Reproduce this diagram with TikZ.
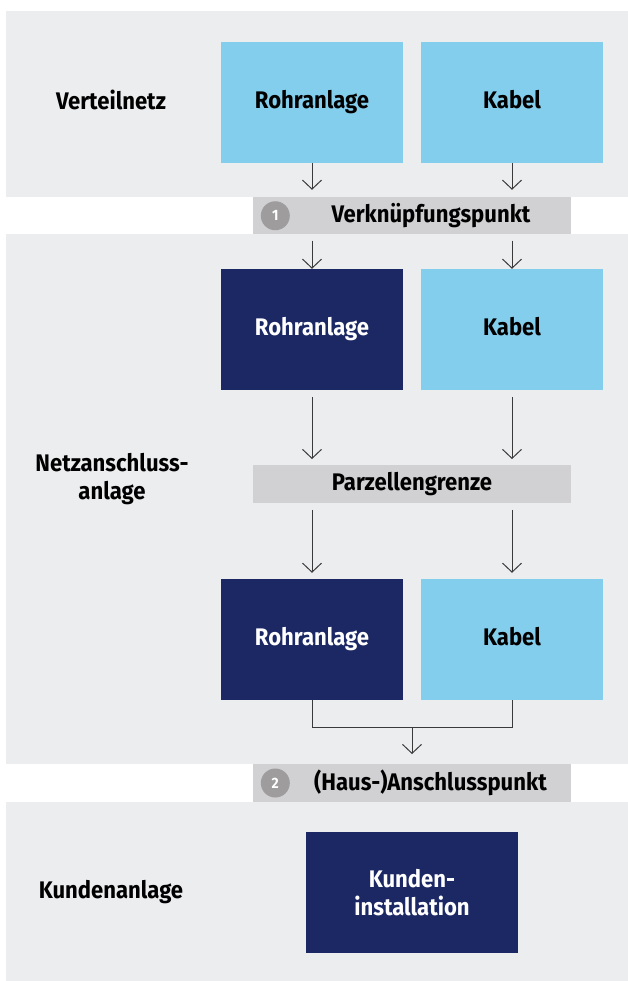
\documentclass[tikz,border=0pt]{standalone}
\usepackage{fontspec}
\setmainfont{Fira Sans}[FakeStretch=0.92]
\usetikzlibrary{arrows.meta, calc}
\definecolor{bandgray}{HTML}{ECEDEF}
\definecolor{bargray}{HTML}{D1D1D3}
\definecolor{lightblue}{HTML}{84CEED}
\definecolor{navy}{HTML}{1B2864}
\definecolor{numgray}{HTML}{9E9C9D}
\definecolor{linegray}{HTML}{3A3A3A}

\tikzset{
	box/.style={rectangle, inner sep=0pt, minimum width=182pt, minimum height=121pt,
		font=\fontsize{24}{28}\selectfont\bfseries, align=center},
	oneline/.style={text height=17pt, text depth=5pt},
	lightbox/.style={box, oneline, fill=lightblue, text=black},
	darkbox/.style={box, oneline, fill=navy, text=white},
	kundenbox/.style={box, minimum width=212pt, fill=navy, text=white},
	bar/.style={rectangle, inner sep=0pt, fill=bargray, minimum width=318pt, minimum height=37.5pt},
	bartext/.style={inner sep=0pt, font=\fontsize{24}{28}\selectfont\bfseries},
	numdot/.style={circle, inner sep=0pt, minimum size=29pt, fill=numgray, text=white,
		font=\fontsize{15}{16}\selectfont\bfseries},
	sectlabel/.style={inner sep=0pt, align=center, font=\fontsize{24}{28}\selectfont\bfseries},
	conn/.style={draw=linegray, line width=1pt},
	arr/.style={conn, -{Straight Barb[length=9pt, width=19pt, line width=1pt]}}
}

\begin{document}
\begin{tikzpicture}[x=1pt, y=-1pt]
	\useasboundingbox (0,0) rectangle (628,981);
	% bands
	\fill [bandgray] (6,11) rectangle (628,197);
	\fill [bandgray] (6,234.5) rectangle (628,764);
	\fill [bandgray] (6,802) rectangle (628,981);

	\node [sectlabel] (verteil) at (111,100) {Verteilnetz};
	\node [sectlabel] (netz) at (112,479) {Netzanschluss-\\anlage};
	\node [sectlabel] (kundenlabel) at (111,892.5) {Kundenanlage};

	\node [lightbox] (rohr1) at (312,102.5) {Rohranlage};
	\node [lightbox] (kabel1) at (512,102.5) {Kabel};
	\node [bar] (verk) at (412,215.75) {};
	\node [numdot] (num1) at ($(verk.west)+(22.5,0)$) {1};
	\node [bartext] (verktext) at ($(verk)+(19,0)$) {Verknüpfungspunkt};

	\node [darkbox] (rohr2) at (312,329.5) {Rohranlage};
	\node [lightbox] (kabel2) at (512,329.5) {Kabel};
	\node [bar] (parz) at (412,484) {};
	\node [bartext] (parztext) at (parz) {Parzellengrenze};

	\node [darkbox] (rohr3) at (312,639.5) {Rohranlage};
	\node [lightbox] (kabel3) at (512,639.5) {Kabel};
	\node [bar] (haus) at (412,783) {};
	\node [numdot] (num2) at ($(haus.west)+(22.5,0)$) {2};
	\node [bartext] (haustext) at ($(haus)+(18.5,0)$) {(Haus-)Anschlusspunkt};

	\node [kundenbox] (kunden) at (412,892.5) {Kunden-\\installation};

	\draw [arr, shorten >=7pt] (rohr1.south) -- (rohr1.south |- verk.north);
	\draw [arr, shorten >=7pt] (kabel1.south) -- (kabel1.south |- verk.north);
	\draw [arr, shorten <=6pt] (rohr2.north |- verk.south) -- (rohr2.north);
	\draw [arr, shorten <=6pt] (kabel2.north |- verk.south) -- (kabel2.north);
	\draw [arr, shorten <=7pt, shorten >=6pt] (rohr2.south) -- (rohr2.south |- parz.north);
	\draw [arr, shorten <=7pt, shorten >=6pt] (kabel2.south) -- (kabel2.south |- parz.north);
	\draw [arr, shorten <=7pt, shorten >=6pt] (rohr3.north |- parz.south) -- (rohr3.north);
	\draw [arr, shorten <=7pt, shorten >=6pt] (kabel3.north |- parz.south) -- (kabel3.north);

	\coordinate (join) at ($(rohr3.south)!.5!(kabel3.south)+(0,27)$);
	\draw [conn] (rohr3.south) |- (join) -| (kabel3.south);
	\draw [arr, shorten >=10pt] (join) -- (join |- haus.north);
\end{tikzpicture}
\end{document}
